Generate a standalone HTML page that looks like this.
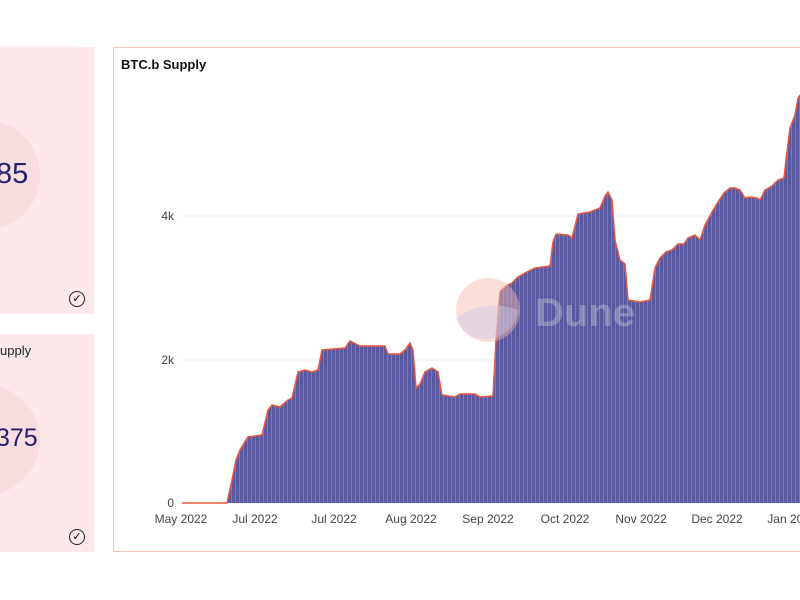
<!DOCTYPE html>
<html><head><style>
body{margin:0;width:800px;height:600px;background:#fff;overflow:hidden;font-family:"Liberation Sans",sans-serif;position:relative}
.card{position:absolute;background:#fde9e9;}
</style></head><body>
<div class="card" style="left:0;top:47px;width:94px;height:267px"></div>
<div class="card" style="left:0;top:334px;width:94px;height:218px"></div>
<div style="position:absolute;left:-70px;top:120px;width:110px;height:110px;border-radius:50%;background:#f6d9dc;opacity:.8"></div>
<div style="position:absolute;left:-70px;top:385px;width:110px;height:110px;border-radius:50%;background:#f6d9dc;opacity:.8"></div>
<div style="position:absolute;left:-4px;top:158px;font-size:29px;color:#24226a">85</div>
<div style="position:absolute;left:-4px;top:424px;font-size:25px;color:#24226a">375</div>
<div style="position:absolute;left:0;top:343px;font-size:13px;color:#222">upply</div>
<div style="position:absolute;left:69px;top:291px;width:14px;height:14px;border:1.5px solid #222;border-radius:50%;font-size:11px;line-height:14px;text-align:center">✓</div>
<div style="position:absolute;left:69px;top:529px;width:14px;height:14px;border:1.5px solid #222;border-radius:50%;font-size:11px;line-height:14px;text-align:center">✓</div>
<div style="position:absolute;left:113px;top:47px;width:700px;height:505px;border:1px solid #f2c4bd;box-sizing:border-box"></div>
<div style="position:absolute;left:121px;top:57px;font-size:13px;font-weight:bold;color:#111">BTC.b Supply</div>
<svg width="800" height="600" style="position:absolute;left:0;top:0">
<defs><pattern id="p" width="4" height="10" patternUnits="userSpaceOnUse"><rect width="4" height="10" fill="#5a58a0"/><rect x="3.3" width="0.7" height="10" fill="#8a88c0"/></pattern></defs>
<g stroke="#ececec" stroke-width="1"><line x1="182" y1="216" x2="800" y2="216"/><line x1="182" y1="360" x2="800" y2="360"/></g>
<g font-size="12" fill="#444" text-anchor="end"><text x="174" y="220">4k</text><text x="174" y="364">2k</text><text x="174" y="507">0</text></g>
<g font-size="12" fill="#444" text-anchor="middle"><text x="181" y="523">May 2022</text><text x="255" y="523">Jul 2022</text><text x="334" y="523">Jul 2022</text><text x="411" y="523">Aug 2022</text><text x="488" y="523">Sep 2022</text><text x="565" y="523">Oct 2022</text><text x="641" y="523">Nov 2022</text><text x="717" y="523">Dec 2022</text><text x="792" y="523">Jan 2023</text></g>
<polygon fill="url(#p)" points="227,503 232,480 236,460 240,450 246,440 248,437 262,435 268,410 272,405 280,407 288,400 292,398 298,372 305,370 312,372 318,370 322,350 345,348 350,341 356,344 360,346 385,346 388,354 400,354 405,350 410,343 413,350 416,388 420,384 425,372 432,368 438,372 442,395 455,397 460,394 475,394 480,397 493,396 496,340 500,292 506,286 512,283 518,277 525,273 535,268 550,266 553,242 556,234 568,235 572,238 578,214 590,212 600,208 605,196 608,192 612,200 615,240 620,260 625,264 628,300 640,302 650,300 655,268 660,258 666,252 672,250 678,244 684,244 688,238 695,235 700,240 705,225 712,212 718,202 724,193 730,188 735,188 740,190 745,198 750,197 757,198 760,200 765,190 772,186 778,180 784,178 786,160 790,128 795,115 798,98 800,95 800,503"/>
<polyline fill="none" stroke="#e9573f" stroke-width="1.5" points="182,503 227,503 232,480 236,460 240,450 246,440 248,437 262,435 268,410 272,405 280,407 288,400 292,398 298,372 305,370 312,372 318,370 322,350 345,348 350,341 356,344 360,346 385,346 388,354 400,354 405,350 410,343 413,350 416,388 420,384 425,372 432,368 438,372 442,395 455,397 460,394 475,394 480,397 493,396 496,340 500,292 506,286 512,283 518,277 525,273 535,268 550,266 553,242 556,234 568,235 572,238 578,214 590,212 600,208 605,196 608,192 612,200 615,240 620,260 625,264 628,300 640,302 650,300 655,268 660,258 666,252 672,250 678,244 684,244 688,238 695,235 700,240 705,225 712,212 718,202 724,193 730,188 735,188 740,190 745,198 750,197 757,198 760,200 765,190 772,186 778,180 784,178 786,160 790,128 795,115 798,98 800,95"/>
<circle cx="488" cy="310" r="32" fill="#f5b8aa" opacity=".45"/><path d="M456 318 Q485 298 518 310 A32 32 0 0 1 456 318Z" fill="#c8c8e6" opacity=".45"/>
<text x="535" y="326" font-size="40" font-weight="bold" fill="#ddd" opacity=".35">Dune</text>
</svg>
</body></html>
